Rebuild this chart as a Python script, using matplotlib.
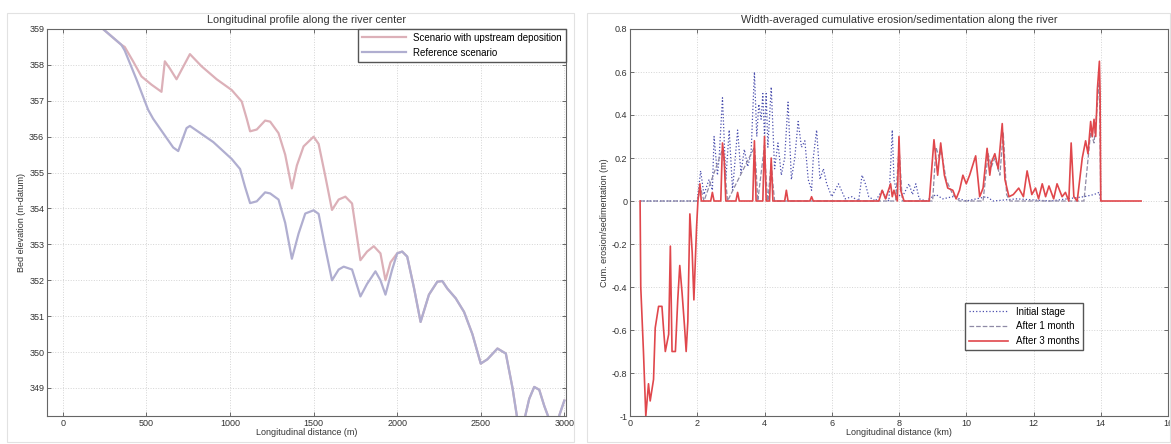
import matplotlib
matplotlib.use("Agg")
import matplotlib.pyplot as plt
from matplotlib.patches import Rectangle

plt.rcParams["font.family"] = ["Liberation Sans", "DejaVu Sans"]
plt.rcParams["font.size"] = 6.5

# ---- left panel: longitudinal bed profile (m, m-datum)
ref_x = [0, 240, 350, 370, 440, 510, 540, 600, 660, 690, 740, 760, 900, 1010, 1060,
         1090, 1120, 1160, 1210, 1240, 1290, 1330, 1370, 1410, 1450, 1500, 1530,
         1570, 1610, 1650, 1680, 1730, 1780, 1820, 1870, 1900, 1930, 1970, 2000,
         2030, 2060, 2100, 2140, 2190, 2240, 2270, 2300, 2350, 2400, 2450, 2500,
         2540, 2600, 2650, 2690, 2720, 2760, 2790, 2820, 2850, 2880, 2920, 2960, 3000]
ref_y = [361.0, 359.0, 358.56, 358.4, 357.6, 356.75, 356.5, 356.1, 355.7, 355.6,
         356.24, 356.3, 355.85, 355.38, 355.1, 354.6, 354.15, 354.2, 354.45, 354.42,
         354.25, 353.6, 352.6, 353.3, 353.86, 353.95, 353.85, 352.9, 352.0, 352.3,
         352.38, 352.3, 351.55, 351.9, 352.25, 352.0, 351.6, 352.3, 352.75, 352.8,
         352.66, 351.8, 350.84, 351.6, 351.96, 351.98, 351.77, 351.5, 351.12, 350.5,
         349.68, 349.8, 350.1, 349.96, 349.0, 348.1, 348.1, 348.7, 349.03, 348.95,
         348.5, 348.0, 348.1, 348.65]

dep_x = [0, 240, 350, 370, 420, 470, 530, 590, 610, 640, 680, 720, 760, 830, 920,
         1010, 1070, 1100, 1120, 1160, 1210, 1240, 1290, 1330, 1370, 1400, 1440,
         1500, 1530, 1570, 1610, 1650, 1690, 1730, 1780, 1820, 1860, 1900, 1930,
         1960, 2000, 2030, 2060, 2100, 2140, 2190, 2240, 2270, 2300, 2350, 2400,
         2450, 2500, 2540, 2600, 2650, 2690, 2720, 2760, 2790, 2820, 2850, 2880,
         2920, 2960, 3000]
dep_y = [361.0, 359.0, 358.56, 358.5, 358.1, 357.68, 357.45, 357.25, 358.1, 357.9,
         357.6, 357.95, 358.3, 357.96, 357.6, 357.3, 356.98, 356.5, 356.15, 356.2,
         356.45, 356.42, 356.1, 355.5, 354.56, 355.2, 355.73, 356.0, 355.8, 354.9,
         353.96, 354.25, 354.33, 354.14, 352.56, 352.8, 352.95, 352.75, 352.0,
         352.5, 352.75, 352.8, 352.66, 351.8, 350.84, 351.6, 351.96, 351.98, 351.77,
         351.5, 351.12, 350.5, 349.68, 349.8, 350.1, 349.96, 349.0, 348.1, 348.1,
         348.7, 349.03, 348.95, 348.5, 348.0, 348.1, 348.65]

# ---- right panel: width-averaged cumulative erosion/sedimentation (km, m)
init_x = [0.3, 2.0, 2.1, 2.2, 2.35, 2.45, 2.5, 2.6, 2.65, 2.75, 2.85, 2.95, 3.05,
          3.2, 3.3, 3.4, 3.5, 3.6, 3.7, 3.77, 3.83, 3.9, 3.95, 4.0, 4.05, 4.1, 4.2,
          4.3, 4.4, 4.5, 4.6, 4.7, 4.8, 4.9, 5.0, 5.1, 5.2, 5.3, 5.4, 5.45, 5.55,
          5.65, 5.75, 5.85, 6.0, 6.2, 6.4, 6.6, 6.8, 6.9, 7.0, 7.1, 7.3, 7.5, 7.6,
          7.7, 7.8, 7.85, 7.95, 8.1, 8.3, 8.4, 8.5, 8.6, 8.8, 9.1, 9.3, 9.6, 10.0,
          10.6, 10.8, 11.5, 12.5, 13.5, 13.8, 13.95, 14.0]
init_y = [0.0, 0.0, 0.14, 0.03, 0.1, 0.05, 0.3, 0.12, 0.2, 0.48, 0.1, 0.33, 0.05,
          0.33, 0.13, 0.24, 0.16, 0.22, 0.6, 0.3, 0.45, 0.38, 0.5, 0.3, 0.5, 0.25,
          0.53, 0.15, 0.27, 0.12, 0.2, 0.46, 0.1, 0.2, 0.37, 0.25, 0.28, 0.1, 0.05,
          0.2, 0.33, 0.1, 0.15, 0.08, 0.02, 0.08, 0.01, 0.02, 0.0, 0.12, 0.08, 0.02,
          0.0, 0.05, 0.02, 0.0, 0.33, 0.1, 0.03, 0.02, 0.08, 0.03, 0.08, 0.01, 0.0,
          0.03, 0.01, 0.02, 0.0, 0.02, 0.0, 0.01, 0.0, 0.02, 0.03, 0.04, 0.0]

month1_x = [0.3, 2.0, 2.1, 2.2, 2.75, 2.8, 2.9, 3.7, 3.75, 3.8, 4.0, 4.05, 4.1,
            4.2, 4.25, 4.3, 5.0, 7.9, 8.0, 8.1, 9.0, 9.1, 9.2, 9.25, 9.4, 9.6,
            9.8, 10.5, 10.65, 10.75, 10.85, 11.0, 11.1, 11.2, 11.3, 13.5, 13.7,
            13.8, 13.9, 13.96, 14.0]
month1_y = [0.0, 0.0, 0.06, 0.0, 0.24, 0.18, 0.0, 0.25, 0.15, 0.0, 0.26, 0.1, 0.0,
            0.18, 0.08, 0.0, 0.0, 0.0, 0.25, 0.0, 0.0, 0.25, 0.2, 0.24, 0.1, 0.03,
            0.0, 0.0, 0.22, 0.16, 0.2, 0.12, 0.32, 0.03, 0.0, 0.0, 0.32, 0.27,
            0.45, 0.58, 0.0]

m3_x = [0.3, 0.32, 0.4, 0.47, 0.55, 0.6, 0.7, 0.75, 0.85, 0.95, 1.0, 1.05, 1.15,
        1.2, 1.25, 1.35, 1.42, 1.48, 1.55, 1.62, 1.67, 1.72, 1.78, 1.85, 1.9, 1.98,
        2.02, 2.08, 2.12, 2.4, 2.45, 2.5, 2.7, 2.75, 2.8, 2.85, 3.15, 3.2, 3.25,
        3.65, 3.7, 3.75, 3.95, 4.0, 4.05, 4.15, 4.2, 4.25, 4.6, 4.65, 4.7, 5.35,
        5.4, 5.45, 6.0, 7.4, 7.5, 7.6, 7.75, 7.8, 7.85, 7.95, 8.0, 8.05, 8.15, 8.5,
        8.9, 9.04, 9.15, 9.24, 9.35, 9.45, 9.6, 9.7, 9.8, 9.9, 10.0, 10.1, 10.28,
        10.4, 10.5, 10.62, 10.7, 10.75, 10.85, 10.95, 11.07, 11.15, 11.27, 11.4,
        11.56, 11.7, 11.81, 11.95, 12.06, 12.15, 12.26, 12.36, 12.46, 12.6, 12.7,
        12.85, 12.95, 13.05, 13.12, 13.2, 13.3, 13.45, 13.55, 13.62, 13.7, 13.75,
        13.8, 13.85, 13.9, 13.96, 13.98, 14.0, 15.2]
m3_y = [0.0, -0.4, -0.7, -1.0, -0.85, -0.93, -0.83, -0.59, -0.49, -0.49, -0.6,
        -0.7, -0.62, -0.21, -0.7, -0.7, -0.46, -0.3, -0.43, -0.58, -0.7, -0.56,
        -0.06, -0.24, -0.46, -0.12, 0.0, 0.08, 0.0, 0.0, 0.04, 0.0, 0.0, 0.27,
        0.2, 0.0, 0.0, 0.04, 0.0, 0.0, 0.28, 0.0, 0.0, 0.3, 0.0, 0.0, 0.2, 0.0,
        0.0, 0.05, 0.0, 0.0, 0.02, 0.0, 0.0, 0.0, 0.05, 0.01, 0.08, 0.02, 0.05,
        0.0, 0.3, 0.05, 0.0, 0.0, 0.0, 0.285, 0.12, 0.27, 0.12, 0.06, 0.05, 0.01,
        0.05, 0.12, 0.08, 0.12, 0.21, 0.02, 0.06, 0.245, 0.12, 0.18, 0.22, 0.15,
        0.36, 0.1, 0.02, 0.03, 0.06, 0.02, 0.14, 0.03, 0.06, 0.01, 0.08, 0.02,
        0.07, 0.01, 0.08, 0.02, 0.04, 0.0, 0.27, 0.02, 0.0, 0.2, 0.28, 0.22,
        0.37, 0.3, 0.38, 0.3, 0.52, 0.65, 0.5, 0.0, 0.0]

GRID = dict(color="#d4d4d4", linestyle=":", linewidth=0.7)
TXT = "#333333"

fig = plt.figure(figsize=(11.71, 4.44), dpi=100)
fig.patch.set_facecolor("white")
# light frames around each panel
for x0, x1 in [(7, 574), (587, 1170)]:
    fig.patches.append(Rectangle((x0 / 1171, 2 / 444), (x1 - x0) / 1171, (444 - 15) / 444,
                                 transform=fig.transFigure, fill=False,
                                 edgecolor="#e2e2e2", linewidth=0.8))

ax1 = fig.add_axes([47 / 1171, 28 / 444, 519 / 1171, 387 / 444])
ax2 = fig.add_axes([630 / 1171, 28 / 444, 538 / 1171, 387 / 444])

# left
ax1.plot(dep_x, dep_y, color="#dcb0b8", lw=1.6, label="Scenario with upstream deposition")
ax1.plot(ref_x, ref_y, color="#b0aed0", lw=1.6, label="Reference scenario")
ax1.set_xlim(-95, 3010)
ax1.set_ylim(348.22, 359)
ax1.set_xticks([0, 500, 1000, 1500, 2000, 2500, 3000])
ax1.set_yticks(range(349, 360))
ax1.set_xlabel("Longitudinal distance (m)", labelpad=0, color=TXT)
ax1.set_ylabel("Bed elevation (m-datum)", labelpad=2, color=TXT)
ax1.set_title("Longitudinal profile along the river center", pad=4, color=TXT)
ax1.legend(loc="upper right", borderaxespad=0, fancybox=False, edgecolor="#555555",
           framealpha=1, handlelength=4.5, fontsize=7)

# right
ax2.plot(init_x, init_y, color="#4b4fae", lw=0.9, ls=":", label="Initial stage")
ax2.plot(month1_x, month1_y, color="#8f8aa6", lw=0.9, ls="--", label="After 1 month")
ax2.plot(m3_x, m3_y, color="#e0474c", lw=1.2, label="After 3 months")
ax2.set_xlim(0, 16)
ax2.set_ylim(-1, 0.8)
ax2.set_xticks(range(0, 17, 2))
ax2.set_yticks([-1, -0.8, -0.6, -0.4, -0.2, 0, 0.2, 0.4, 0.6, 0.8])
ax2.set_yticklabels(["-1", "-0.8", "-0.6", "-0.4", "-0.2", "0", "0.2", "0.4", "0.6", "0.8"])
ax2.set_xlabel("Longitudinal distance (km)", labelpad=0, color=TXT)
ax2.set_ylabel("Cum. erosion/sedimentation (m)", labelpad=2, color=TXT)
ax2.set_title("Width-averaged cumulative erosion/sedimentation along the river", pad=4, color=TXT)
ax2.legend(loc="lower left", bbox_to_anchor=(0.623, 0.17), borderaxespad=0,
           fancybox=False, edgecolor="#555555", framealpha=1, handlelength=4, fontsize=7)

for ax in (ax1, ax2):
    ax.grid(True, **GRID)
    ax.tick_params(direction="in", length=3, width=0.6, top=True, right=True,
                   colors="#555555", labelcolor=TXT, labelsize=6.5, pad=2)
    for s in ax.spines.values():
        s.set_color("#666666")
        s.set_linewidth(0.8)

fig.savefig("out.png", dpi=100)
